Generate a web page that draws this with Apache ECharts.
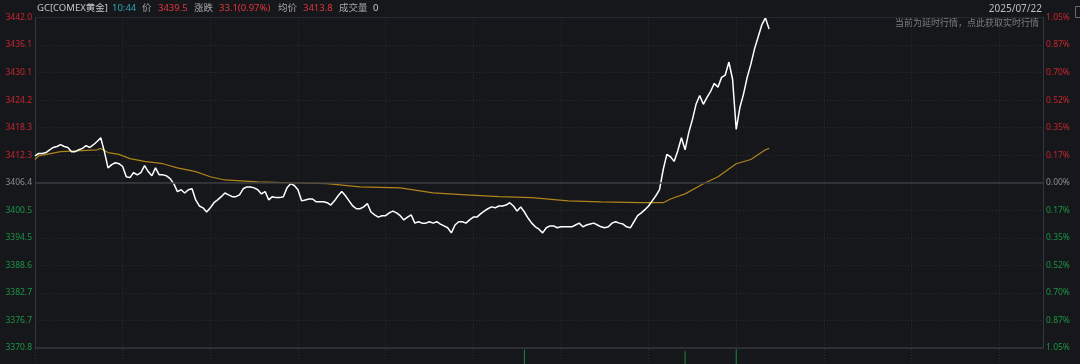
<!DOCTYPE html>
<html><head><meta charset="utf-8">
<script src="https://cdn.jsdelivr.net/npm/echarts@6/dist/echarts.min.js"></script>
<style>html,body{margin:0;padding:0;background:#15171b;}#c{width:1080px;height:364px;}</style>
</head><body><div id="c"></div>
<script>
// ---- data ----
const basePrice = 3406.4;
const priceMin = 3370.8;
const priceMax = 3442.0;
const priceTickLabels = ['3370.8','3376.7','3382.7','3388.6','3394.5','3400.5','3406.4','3412.3','3418.3','3424.2','3430.1','3436.1','3442.0'];
const pctTickLabels = ['1.05%','0.87%','0.70%','0.52%','0.35%','0.17%','0.00%','0.17%','0.35%','0.52%','0.70%','0.87%','1.05%'];
// price, one value every 5 minutes from 06:00
const price = [
3412.2,3412.7,3412.7,3412.9,3413.5,3414.0,3414.2,3414.6,3414.2,3414.0,
3413.1,3413.1,3413.5,3413.8,3414.4,3414.0,3414.6,3415.3,3416.1,3413.1,
3409.6,3410.3,3410.7,3410.5,3409.9,3407.7,3407.5,3408.6,3408.1,3408.6,
3410.1,3408.8,3407.9,3409.6,3408.1,3408.1,3407.9,3407.3,3406.2,3404.5,
3404.9,3404.2,3404.9,3405.1,3402.7,3401.4,3401.0,3400.1,3401.0,3402.1,
3402.7,3403.4,3404.2,3403.8,3403.4,3403.4,3403.8,3405.1,3405.5,3405.5,
3405.3,3404.9,3404.0,3404.5,3402.7,3403.4,3403.2,3403.2,3403.4,3405.3,
3406.2,3405.8,3404.9,3402.5,3402.7,3402.9,3402.9,3402.3,3402.3,3402.3,
3402.1,3401.6,3402.5,3403.6,3404.5,3403.6,3402.5,3401.4,3400.8,3400.8,
3401.2,3401.9,3400.1,3399.5,3399.0,3399.3,3399.3,3399.9,3400.3,3399.9,
3399.3,3398.4,3399.0,3399.5,3397.7,3398.0,3397.7,3397.7,3398.0,3397.7,
3398.0,3397.5,3397.1,3396.7,3395.6,3397.3,3398.0,3398.0,3397.7,3398.4,
3399.0,3399.0,3399.7,3400.3,3400.8,3401.2,3401.0,3401.4,3401.4,3401.6,
3402.1,3401.4,3400.3,3401.2,3400.1,3398.8,3397.7,3396.9,3396.4,3395.6,
3396.7,3397.1,3397.1,3396.7,3396.9,3396.9,3396.9,3396.9,3397.3,3397.7,
3396.9,3397.3,3397.5,3397.7,3397.3,3396.9,3396.7,3396.9,3397.7,3398.0,
3397.7,3397.5,3396.9,3396.7,3398.0,3399.3,3399.9,3400.6,3401.4,3402.5,
3403.6,3404.9,3409.2,3412.5,3412.0,3411.0,3413.3,3416.1,3413.5,3417.2,
3420.0,3423.3,3425.2,3423.3,3424.8,3426.1,3427.8,3427.0,3429.1,3429.6,
3432.4,3428.7,3417.9,3422.6,3425.5,3429.1,3431.9,3435.2,3437.8,3440.4,
3441.9,3439.5
];
// average price line (slot index, value)
const avgIdx = [0,1,7,17,18,20,23,26,30,35,39,44,48,52,61,70,80,89,100,109,118,127,136,146,155,166,172,174,178,183,187,192,196,200,201];
const avgVal = [3411.4,3412.2,3413.1,3413.5,3413.8,3412.9,3412.5,3411.6,3411.0,3410.5,3409.6,3408.8,3407.7,3407.0,3406.6,3406.4,3406.2,3405.5,3405.3,3404.2,3403.8,3403.4,3403.2,3402.5,3402.3,3402.1,3402.1,3402.9,3404.0,3406.2,3407.7,3410.5,3411.4,3413.5,3413.8];
// volume bars (slot index, value)
const volIdx = [134,178,192];
const volVal = [97,91,99];

// time slots: 5-minute steps, 06:00 -> 05:00 next day
const times = [];
for (let m = 0; m <= 1380; m += 5) {
  const tot = 360 + m;
  const h = Math.floor(tot / 60) % 24, mm = tot % 60;
  times.push(String(h).padStart(2,'0') + ':' + String(mm).padStart(2,'0'));
}

const iv = (priceMax - priceMin) / 12;
const RED = '#c9262e', GREEN = '#1d9446', GRAY = '#8c8c8c';
const FONT = '"Noto Sans", "Noto Sans CJK SC", sans-serif';
function tickIndex(v){ return Math.round((v - priceMin) / iv); }
function tickColor(v){ const k = tickIndex(v); return k > 6 ? RED : (k < 6 ? GREEN : GRAY); }

const chart = echarts.init(document.getElementById('c'), null, {renderer:'canvas'});
const splitDot = {show:true, lineStyle:{color:'#2a2d34', type:[1,2], width:1}};

const titleParts = [
  {x:37, t:'GC[COMEX黄金]', c:'#c8c8c8'},
  {x:112, t:'10:44', c:'#2aa4b4'},
  {x:142, t:'价', c:'#a6a6a6'},
  {x:158, t:'3439.5', c:'#e0363c'},
  {x:194, t:'涨跌', c:'#a6a6a6'},
  {x:219, t:'33.1(0.97%)', c:'#e0363c'},
  {x:278, t:'均价', c:'#a6a6a6'},
  {x:303, t:'3413.8', c:'#e0363c'},
  {x:339, t:'成交量', c:'#a6a6a6'},
  {x:373, t:'0', c:'#c8c8c8'}
];
const graphics = titleParts.map(p => ({
  type:'text', left:p.x, top:4,
  style:{text:p.t, fill:p.c, font:'9.5px ' + FONT}
}));
graphics.push({type:'text', right:38, top:4, style:{text:'2025/07/22', fill:'#bdbdbd', font:'10px ' + FONT}});
graphics.push({type:'text', right:41, top:19, style:{text:'当前为延时行情，点此获取实时行情', fill:'#7d7d7d', font:'9px ' + FONT}});
graphics.push({type:'rect', left:1073, top:4, shape:{width:9, height:11}, style:{fill:'none', stroke:'#6a6a6a', lineWidth:1}});

chart.setOption({
  animation:false,
  backgroundColor:'#15171b',
  graphic: graphics,
  grid:[
    {left:35, right:37, top:17.5, height:330.5},
    {left:35, right:37, top:349, height:100}
  ],
  xAxis:[
    {type:'category', gridIndex:0, data:times, boundaryGap:false,
     axisLine:{show:false}, axisTick:{show:false}, axisLabel:{show:false},
     splitLine:Object.assign({interval:23}, splitDot)},
    {type:'category', gridIndex:1, data:times, boundaryGap:false,
     axisLine:{show:false}, axisTick:{show:false}, axisLabel:{show:false},
     splitLine:Object.assign({interval:23}, splitDot)}
  ],
  yAxis:[
    {type:'value', gridIndex:0, position:'left', min:priceMin, max:priceMax, interval:iv,
     axisLine:{show:true, lineStyle:{color:'#34373e'}}, axisTick:{show:false},
     splitLine:splitDot,
     axisLabel:{fontSize:8.5, fontFamily:FONT, margin:3,
       formatter:v => priceTickLabels[tickIndex(v)],
       color:v => tickColor(v)}},
    {type:'value', gridIndex:0, position:'right', min:priceMin, max:priceMax, interval:iv,
     axisLine:{show:true, lineStyle:{color:'#34373e'}}, axisTick:{show:false},
     splitLine:{show:false},
     axisLabel:{fontSize:8.5, fontFamily:FONT, margin:3,
       formatter:v => pctTickLabels[tickIndex(v)],
       color:v => tickColor(v)}},
    {type:'value', gridIndex:1, min:0, max:100, show:false, splitLine:{show:false}}
  ],
  series:[
    {type:'line', name:'均价', xAxisIndex:0, yAxisIndex:0,
     data: avgIdx.map((k,j) => [k, avgVal[j]]),
     showSymbol:false, smooth:false,
     lineStyle:{color:'#b08418', width:1.2}, z:3},
    {type:'line', name:'价', xAxisIndex:0, yAxisIndex:0, data:price,
     showSymbol:false, smooth:false,
     lineStyle:{color:'#ffffff', width:1.5}, z:4,
     markLine:{silent:true, symbol:'none', label:{show:false},
       data:[
         {yAxis:basePrice, lineStyle:{color:'#3b3e45', width:1.5, type:'solid'}},
         {yAxis:priceMin, lineStyle:{color:'#34373e', width:1.5, type:'solid'}},
         {yAxis:priceMax, lineStyle:{color:'#262930', width:1, type:'solid'}}
       ]}},
    {type:'bar', name:'成交量', xAxisIndex:1, yAxisIndex:2,
     data: volIdx.map((k,j) => [k, volVal[j]]),
     barWidth:1, itemStyle:{color:'#1d8a3f'}}
  ]
});
</script></body></html>
